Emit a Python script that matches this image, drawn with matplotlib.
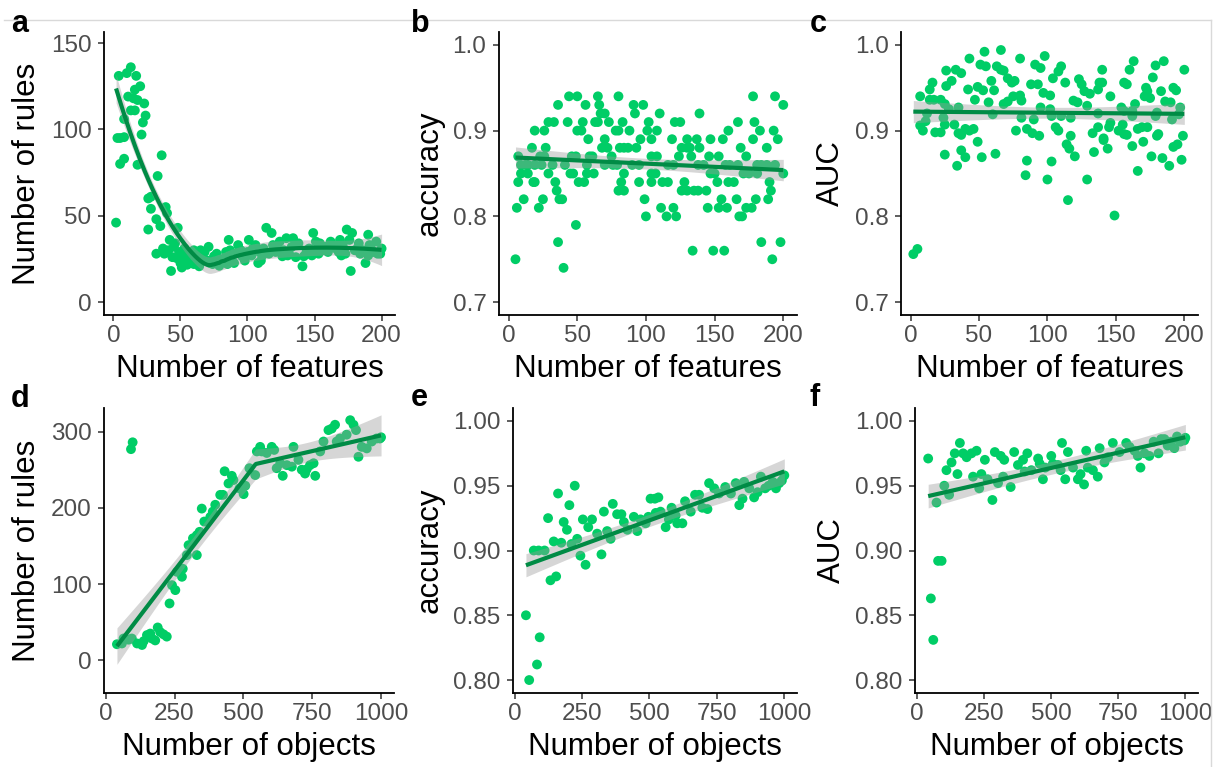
import matplotlib
matplotlib.use("Agg")
import matplotlib.pyplot as plt
from matplotlib.lines import Line2D
import numpy as np

plt.rcParams["font.family"] = ["Liberation Sans", "DejaVu Sans"]

W, H = 1225, 767

POINT_COLOR = "#00CD66"
LINE_COLOR = "#008B45"
TICK_COLOR = "#4D4D4D"

# ---- a: rules vs number of features ----
feat_rules_x = [
    2, 4, 3, 5, 8, 5, 8, 13, 10, 17, 11, 15, 18, 13, 16, 16, 20, 23, 24, 22, 21, 8, 18, 36,
    33, 26, 28, 28, 32, 35, 26, 39, 40, 48, 42, 32, 37, 43, 45, 47, 50, 52, 55, 58, 64, 65,
    71, 72, 75, 80, 86, 87, 90, 93, 96, 101, 104, 108, 111, 114, 118, 122, 126, 129, 134,
    141, 142, 149, 154, 158, 164, 169, 174, 178, 177, 182, 184, 190, 188, 192, 197, 200,
    38, 41, 44, 46, 49, 51, 53, 56, 57, 60, 62, 66, 68, 70, 74, 77, 79, 82, 84, 88, 91, 95,
    98, 100, 103, 106, 109, 112, 116, 119, 121, 124, 127, 131, 133, 136, 138, 144, 146, 148,
    151, 153, 156, 160, 162, 166, 168, 171, 173, 176, 180, 183, 186, 191, 194, 196, 199,
    60, 85, 110, 130, 150, 170, 190,
]
feat_rules_y = [
    46, 131, 95, 95, 95.5, 80, 83, 136, 132.6, 131, 119, 118, 117, 111, 111, 123, 125, 115,
    108, 104, 97, 106, 79.5, 85, 73, 60, 61, 54, 48, 44, 42, 55, 51.5, 43, 36, 28, 31, 18,
    32, 25.5, 22.6, 26.5, 21.6, 26.5, 20.7, 30, 32, 22.6, 26.5, 24.5, 36, 30, 22.6, 33,
    26.5, 36, 31, 22.6, 27, 43, 40, 32, 26.5, 37, 37, 20.7, 26.5, 40, 34, 32, 33, 36, 42,
    40, 18, 31, 28, 39, 22.6, 31, 28, 31,
    28, 30, 26, 34, 29, 20, 31, 24, 28, 22, 27, 25, 29, 24, 22, 28, 21, 25, 29, 26, 28, 30,
    24, 29, 27, 33, 29, 31, 28, 33, 29, 35, 30, 28, 32, 26, 34, 29, 31, 27, 35, 28, 30, 29,
    35, 31, 29, 33, 28, 36, 30, 34, 30, 33, 29, 35, 28,
    30, 22, 24, 27, 29, 27, 27,
]

# ---- b: accuracy vs number of features ----
feat_acc_x = [
    5, 192, 40, 36, 184, 198, 134, 149, 157, 49,
    100, 115, 122, 168, 170,
    6, 22, 111, 120, 145, 153, 159, 173, 177,
    11, 25, 37, 39, 99, 155, 166, 180, 189,
    35, 80, 84, 126, 130, 135, 138, 144, 191,
    7, 18, 19, 34, 51, 55, 82, 95, 104, 112, 116, 128, 152, 160, 164, 190,
    9, 14, 29, 45, 47, 57, 62, 84, 104, 107, 147, 150, 171, 175, 181, 200,
    9, 12, 14, 19, 24, 32, 41, 57, 70, 76, 79, 90, 95, 116, 120, 138, 142, 158, 161, 167,
    181, 184, 188, 194,
    7, 23, 26, 46, 49, 59, 61, 75, 104, 108, 124, 133, 146, 153, 173,
    17, 27, 68, 72, 81, 84, 87, 93, 126, 130, 132, 139, 169, 188,
    58, 70, 96, 104, 119, 130, 137, 147, 156, 178, 196,
    19, 26, 50, 53, 78, 80, 88, 101, 108, 160, 183, 193,
    29, 33, 43, 54, 63, 65, 73, 83, 102, 121, 125, 167, 179,
    67, 70, 92, 110, 139,
    36, 56, 66, 91, 98, 200,
    44, 50, 65, 80, 178, 194,
]
feat_acc_y = (
    [0.75, 0.75, 0.74, 0.77, 0.77, 0.77, 0.76, 0.76, 0.76, 0.79]
    + [0.80] * 5
    + [0.81] * 9
    + [0.82] * 9
    + [0.83] * 9
    + [0.84] * 16
    + [0.85] * 16
    + [0.86] * 24
    + [0.87] * 15
    + [0.88] * 14
    + [0.89] * 11
    + [0.90] * 12
    + [0.91] * 13
    + [0.92] * 5
    + [0.93] * 6
    + [0.94] * 6
)

# ---- c: AUC vs number of features ----
feat_auc_x = [
    2, 5, 149, 115, 84, 100, 129, 166, 85, 103,
    198, 34, 52, 62, 25, 40, 37, 120, 134, 176,
    184, 189, 144, 162, 192, 195, 49, 116, 114, 170,
    141, 9, 18, 22, 35, 37, 40, 43, 46, 77,
    85, 89, 94, 106, 108, 117, 133, 137, 141, 145,
    146, 152, 156, 158, 155, 166, 169, 173, 181, 180,
    191, 199, 25, 32, 7, 11, 24, 12, 60, 81,
    90, 103, 110, 117, 137, 162, 179, 196,
    7, 14, 16, 14, 17, 22, 25, 28, 26, 30,
    26, 33, 37, 43, 42, 49, 53, 47, 35, 51,
    55, 54, 59, 61, 57, 63, 66, 68, 66, 71,
    74, 76, 68, 71, 75, 80, 81, 80, 88, 93,
    91, 95, 98, 97, 102, 95, 102, 104, 108, 110,
    113, 119, 122, 123, 125, 127, 131, 129, 137, 138,
    140, 140, 146, 154, 156, 158, 160, 163, 164, 172,
    173, 171, 175, 177, 179, 185, 183, 186, 190, 192,
    194, 200, 197, 180, 162, 156,
]
feat_auc_y = [
    0.756, 0.762, 0.801, 0.819, 0.848, 0.843, 0.843, 0.853, 0.865, 0.864,
    0.866, 0.859, 0.869, 0.873, 0.872, 0.869, 0.877, 0.870, 0.875, 0.870,
    0.868, 0.859, 0.879, 0.882, 0.881, 0.884, 0.887, 0.879, 0.884, 0.887,
    0.889, 0.900, 0.898, 0.898, 0.897, 0.895, 0.902, 0.900, 0.902, 0.900,
    0.902, 0.897, 0.894, 0.904, 0.900, 0.894, 0.897, 0.904, 0.891, 0.904,
    0.909, 0.900, 0.896, 0.895, 0.907, 0.902, 0.904, 0.904, 0.896, 0.894,
    0.913, 0.894, 0.907, 0.907, 0.906, 0.911, 0.915, 0.920, 0.919, 0.915,
    0.913, 0.917, 0.917, 0.915, 0.920, 0.917, 0.917, 0.919,
    0.940, 0.948, 0.956, 0.936, 0.936, 0.936, 0.931, 0.925, 0.952, 0.958,
    0.970, 0.971, 0.967, 0.984, 0.948, 0.951, 0.947, 0.936, 0.927, 0.977,
    0.975, 0.992, 0.958, 0.947, 0.933, 0.975, 0.971, 0.970, 0.994, 0.961,
    0.956, 0.958, 0.931, 0.934, 0.940, 0.941, 0.935, 0.984, 0.954, 0.954,
    0.977, 0.973, 0.987, 0.944, 0.941, 0.927, 0.925, 0.961, 0.969, 0.975,
    0.956, 0.935, 0.933, 0.960, 0.954, 0.946, 0.943, 0.929, 0.948, 0.956,
    0.956, 0.971, 0.940, 0.927, 0.956, 0.954, 0.971, 0.981, 0.931, 0.950,
    0.946, 0.940, 0.938, 0.962, 0.976, 0.981, 0.946, 0.934, 0.933, 0.950,
    0.947, 0.971, 0.927, 0.921, 0.923, 0.923,
]

# ---- d: rules vs number of objects ----
obj_rules_x = [
    41, 59, 65, 83, 95, 92, 98, 114, 132, 138, 150, 162, 168, 180, 189, 198, 210, 222, 232,
    241, 253, 259, 277, 280, 295, 301, 331, 317, 331, 341, 349, 358, 380, 389, 398, 416,
    426, 432, 446, 458, 464, 486, 501, 507, 522, 543, 549, 561, 567, 585, 603, 612, 621,
    634, 643, 658, 676, 682, 700, 712, 724, 730, 742, 755, 761, 779, 791, 809, 821, 833,
    839, 851, 875, 888, 900, 909, 918, 930, 948, 966, 984, 996, 1000,
]
obj_rules_y = [
    21, 22, 28.5, 27, 28.5, 277, 286, 22, 20, 25, 33, 35, 28.5, 26, 43, 37, 34, 31, 74.5,
    98.5, 92, 116, 109.5, 120, 138, 151, 138, 160, 164, 168.5, 199, 182, 188, 195, 204,
    217, 217, 248, 232, 242, 236.5, 225.5, 218, 229, 252, 243, 274, 280, 274, 272, 280,
    276, 252, 258.5, 242, 256, 254, 280, 263, 250, 245, 250.5, 256, 258.5, 242, 274, 287,
    302, 304, 309, 287, 291, 296, 315, 309, 302, 267, 280, 278, 287, 291, 291, 292.6,
]

# ---- e: accuracy vs number of objects ----
obj_acc_x = [
    42, 54, 83, 93, 71, 89, 111, 124, 133, 154, 145, 161, 173, 182, 194, 203, 211, 223,
    232, 244, 253, 263, 273, 287, 306, 322, 331, 343, 356, 364, 380, 396, 405, 418, 442,
    455, 467, 486, 496, 504, 520, 533, 523, 541, 560, 572, 582, 603, 622, 597, 632, 653,
    669, 684, 696, 715, 721, 740, 758, 781, 802, 820, 833, 845, 851, 870, 888, 901, 913,
    929, 942, 957, 969, 981, 991, 1000,
]
obj_acc_y = [
    0.850, 0.800, 0.812, 0.833, 0.900, 0.900, 0.900, 0.925, 0.877, 0.880, 0.907, 0.944,
    0.906, 0.922, 0.916, 0.935, 0.905, 0.950, 0.909, 0.896, 0.924, 0.889, 0.918, 0.924,
    0.913, 0.897, 0.930, 0.915, 0.909, 0.936, 0.928, 0.928, 0.922, 0.916, 0.926, 0.915,
    0.924, 0.921, 0.926, 0.940, 0.940, 0.941, 0.929, 0.930, 0.918, 0.924, 0.933, 0.921,
    0.921, 0.927, 0.938, 0.930, 0.943, 0.943, 0.933, 0.932, 0.952, 0.948, 0.944, 0.949,
    0.944, 0.952, 0.935, 0.940, 0.953, 0.948, 0.941, 0.945, 0.957, 0.948, 0.950, 0.953,
    0.948, 0.952, 0.954, 0.958,
]

# ---- f: AUC vs number of objects ----
obj_auc_x = [
    43, 53, 62, 74, 80, 93, 103, 111, 121, 130, 142, 152, 161, 173, 186, 204, 223, 210,
    233, 241, 254, 264, 282, 291, 313, 326, 303, 322, 350, 363, 377, 396, 412, 402, 427,
    452, 458, 470, 479, 501, 507, 526, 536, 541, 553, 563, 582, 600, 610, 623, 631, 637,
    656, 674, 681, 699, 712, 730, 755, 780, 792, 811, 823, 833, 848, 866, 882, 900, 910,
    922, 934, 947, 959, 969, 981, 996, 1000,
]
obj_auc_y = [
    0.971, 0.863, 0.831, 0.937, 0.892, 0.892, 0.950, 0.962, 0.943, 0.968, 0.975, 0.959,
    0.983, 0.975, 0.972, 0.975, 0.977, 0.957, 0.948, 0.959, 0.970, 0.955, 0.939, 0.976,
    0.973, 0.970, 0.952, 0.957, 0.949, 0.976, 0.966, 0.970, 0.975, 0.961, 0.962, 0.971,
    0.967, 0.955, 0.964, 0.973, 0.967, 0.966, 0.962, 0.983, 0.955, 0.976, 0.964, 0.955,
    0.959, 0.951, 0.977, 0.964, 0.962, 0.957, 0.979, 0.968, 0.972, 0.983, 0.976, 0.983,
    0.980, 0.977, 0.973, 0.964, 0.975, 0.973, 0.984, 0.975, 0.986, 0.986, 0.981, 0.984,
    0.979, 0.988, 0.984, 0.985, 0.987,
]


def loess_fit(x, y, grid, span):
    x = np.asarray(x, float)
    y = np.asarray(y, float)
    n = len(x)
    q = int(np.ceil(span * n))

    def weights_row(g):
        d = np.abs(x - g)
        h = np.sort(d)[q - 1]
        w = np.clip(1 - (d / h) ** 3, 0, None) ** 3
        X = np.column_stack([np.ones(n), x - g, (x - g) ** 2])
        XtW = X.T * w
        return np.linalg.solve(XtW @ X, XtW)[0]

    at_data = np.array([weights_row(g) for g in x])
    resid = y - at_data @ y
    dof = n - np.trace(at_data)
    sigma = np.sqrt(np.sum(resid ** 2) / dof)

    rows = np.array([weights_row(g) for g in grid])
    fit = rows @ y
    se = sigma * np.sqrt(np.sum(rows ** 2, axis=1))
    return fit, se


def ols_band(X, y, X0):
    beta, *_ = np.linalg.lstsq(X, y, rcond=None)
    resid = y - X @ beta
    sigma = np.sqrt(np.sum(resid ** 2) / (len(y) - X.shape[1]))
    cov = np.linalg.inv(X.T @ X)
    se = sigma * np.sqrt(np.einsum("ij,jk,ik->i", X0, cov, X0))
    return X0 @ beta, se


def linear_fit(x, y, grid):
    x = np.asarray(x, float)
    y = np.asarray(y, float)
    design = lambda v: np.column_stack([np.ones_like(v), v])
    return ols_band(design(x), y, design(grid))


def hinge_fit(x, y, grid):
    # two straight segments joined at the breakpoint with the lowest residual error
    x = np.asarray(x, float)
    y = np.asarray(y, float)

    def design(v, k):
        return np.column_stack([np.ones_like(v), v, np.clip(v - k, 0, None)])

    best_k, best_rss = None, np.inf
    for k in np.arange(300, 801, 5):
        X = design(x, k)
        beta, *_ = np.linalg.lstsq(X, y, rcond=None)
        rss = np.sum((y - X @ beta) ** 2)
        if rss < best_rss:
            best_k, best_rss = k, rss
    return ols_band(design(x, best_k), y, design(grid, best_k))


def px_axes(fig, left, right, top, bottom):
    return fig.add_axes([left / W, 1 - bottom / H, (right - left) / W, (bottom - top) / H])


def draw_panel(ax, x, y, smooth):
    ax.scatter(x, y, s=50, color=POINT_COLOR, edgecolors="none", zorder=2)
    grid = np.linspace(min(x), max(x), 400)
    if smooth == "loess":
        fit, se = loess_fit(x, y, grid, span=0.75)
    elif smooth == "hinge":
        fit, se = hinge_fit(x, y, grid)
    else:
        fit, se = linear_fit(x, y, grid)
    ax.fill_between(grid, fit - 1.97 * se, fit + 1.97 * se, color="#999999",
                    alpha=0.4, linewidth=0, zorder=3)
    ax.plot(grid, fit, color=LINE_COLOR, linewidth=3, zorder=4, solid_capstyle="butt")


def style(ax, xlabel, ylabel, xlim, ylim, xticks, yticks, yfmt):
    ax.set_xlim(*xlim)
    ax.set_ylim(*ylim)
    ax.set_xticks(xticks)
    ax.set_yticks(yticks)
    ax.set_yticklabels([yfmt.format(v) for v in yticks])
    for side in ("top", "right"):
        ax.spines[side].set_visible(False)
    for side in ("left", "bottom"):
        ax.spines[side].set_linewidth(1.3)
        ax.spines[side].set_color("black")
    ax.tick_params(axis="both", length=4, width=1.1, color="#333333",
                   labelsize=17.5, labelcolor=TICK_COLOR)
    ax.tick_params(axis="x", pad=3)
    ax.tick_params(axis="y", pad=5)
    ax.set_xlabel(xlabel, fontsize=22.5, color="black", labelpad=5)
    ax.set_ylabel(ylabel, fontsize=22.5, color="black", labelpad=6)


fig = plt.figure(figsize=(W / 100, H / 100), dpi=100)

top_xlim = (-7, 210)
bot_xlim = (-6, 1047)
feat_ticks = [0, 50, 100, 150, 200]
obj_ticks = [0, 250, 500, 750, 1000]

ax_a = px_axes(fig, 104, 395, 32, 315)
draw_panel(ax_a, feat_rules_x, feat_rules_y, "loess")
style(ax_a, "Number of features", "Number of rules", top_xlim, (-7.5, 156.4),
      feat_ticks, [0, 50, 100, 150], "{:g}")

ax_b = px_axes(fig, 499, 797, 32, 315)
draw_panel(ax_b, feat_acc_x, feat_acc_y, "lm")
style(ax_b, "Number of features", "accuracy", top_xlim, (0.685, 1.015),
      feat_ticks, [0.7, 0.8, 0.9, 1.0], "{:.1f}")

ax_c = px_axes(fig, 901, 1198, 32, 315)
draw_panel(ax_c, feat_auc_x, feat_auc_y, "lm")
style(ax_c, "Number of features", "AUC", top_xlim, (0.685, 1.015),
      feat_ticks, [0.7, 0.8, 0.9, 1.0], "{:.1f}")

ax_d = px_axes(fig, 104, 394, 408, 693)
draw_panel(ax_d, obj_rules_x, obj_rules_y, "hinge")
style(ax_d, "Number of objects", "Number of rules", bot_xlim, (-43, 331),
      obj_ticks, [0, 100, 200, 300], "{:g}")

ax_e = px_axes(fig, 513, 797, 408, 693)
draw_panel(ax_e, obj_acc_x, obj_acc_y, "lm")
style(ax_e, "Number of objects", "accuracy", bot_xlim, (0.79, 1.01),
      obj_ticks, [0.80, 0.85, 0.90, 0.95, 1.00], "{:.2f}")

ax_f = px_axes(fig, 915, 1198, 408, 693)
draw_panel(ax_f, obj_auc_x, obj_auc_y, "lm")
style(ax_f, "Number of objects", "AUC", bot_xlim, (0.79, 1.01),
      obj_ticks, [0.80, 0.85, 0.90, 0.95, 1.00], "{:.2f}")

# panel letters
for letter, px, py in [("a", 11, 32), ("b", 411, 32), ("c", 810, 32),
                       ("d", 11, 407), ("e", 411, 406), ("f", 810, 406)]:
    fig.text(px / W, 1 - py / H, letter, fontsize=22, fontweight="bold",
             ha="left", va="baseline")

# thin frame lines along the top and right edges
fig.add_artist(Line2D([4 / W, 1211 / W], [1 - 20 / H, 1 - 20 / H],
                      color="#D9D9D9", linewidth=1.0))
fig.add_artist(Line2D([1211 / W, 1211 / W], [1 - 20 / H, 0],
                      color="#D9D9D9", linewidth=1.0))

fig.savefig("out.png", dpi=100)
